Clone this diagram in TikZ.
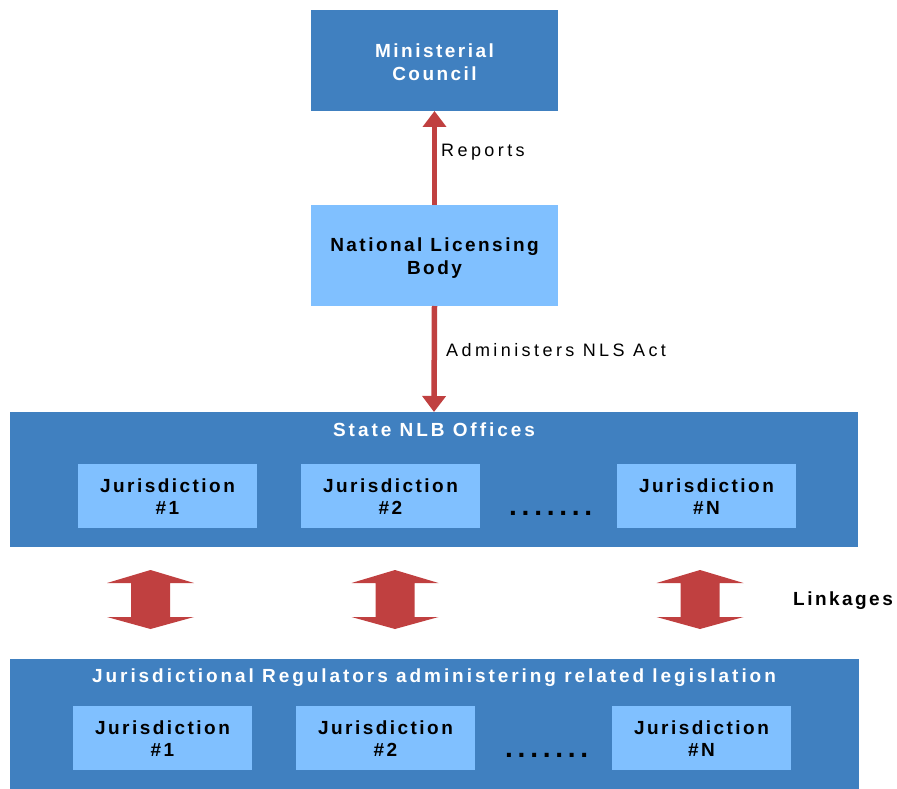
\documentclass[tikz,border=0pt]{standalone}
\usepackage{fontspec}
\setmainfont{Liberation Sans}
\newfontfamily\spc[LetterSpace=13]{Liberation Sans}
\newfontfamily\spct[LetterSpace=15.5]{Liberation Sans}
\newfontfamily\spcr[LetterSpace=19]{Liberation Sans}
\newfontfamily\dotsfont[LetterSpace=17]{Liberation Sans}
\usetikzlibrary{arrows.meta}
\definecolor{darkblue}{HTML}{4080C0}
\definecolor{lightblue}{HTML}{80C0FF}
\definecolor{linkred}{HTML}{C04040}
\begin{document}
\begin{tikzpicture}[x=1pt,y=-1pt,
  box/.style={rectangle, inner sep=0pt, outer sep=0pt},
  darkbox/.style={box, fill=darkblue},
  lightbox/.style={box, fill=lightblue},
  boxtext/.style={inner sep=0pt, align=center, font=\spc\bfseries\fontsize{19}{23}\selectfont},
  jurbox/.style={lightbox, minimum width=179pt, minimum height=64pt},
  jurtext/.style={boxtext, font=\spc\bfseries\fontsize{19}{22}\selectfont},
  conn/.style={draw=linkred, line width=5.5pt},
  lbl/.style={anchor=west, inner sep=0pt, font=\spcr\fontsize{18}{22}\selectfont},
  ttl/.style={inner sep=0pt, text=white, font=\spct\bfseries\fontsize{19}{22}\selectfont},
  dotted text/.style={anchor=base west, inner sep=0pt, font=\dotsfont\bfseries\fontsize{28}{28}\selectfont},
  linkarrow/.style={fill=linkred}
]
\useasboundingbox (0,0) rectangle (897,789);

% top boxes
\node[darkbox, minimum width=247pt, minimum height=101pt] (mc) at (434.5,60.5) {};
\node[boxtext, text=white] (mctext) at ([yshift=-2pt]mc.center) {Ministerial\\Council};
\node[lightbox, minimum width=247pt, minimum height=101pt] (nlb) at (434.5,255.5) {};
\node[boxtext] (nlbtext) at ([yshift=-3pt]nlb.center) {National Licensing\\Body};

% state box
\node[darkbox, minimum width=848pt, minimum height=135pt] (state) at (434,479.5) {};
\node[ttl] (statettl) at (434,430) {State NLB Offices};
\node[jurbox] (sj1) at (167.5,496) {};
\node[jurbox] (sj2) at (390.5,496) {};
\node[jurbox] (sjn) at (706.5,496) {};
\node[jurtext] at ([yshift=-1pt]sj1.center) {Jurisdiction\\\#1};
\node[jurtext] at ([yshift=-1pt]sj2.center) {Jurisdiction\\\#2};
\node[jurtext] at ([yshift=-1pt]sjn.center) {Jurisdiction\\\#N};
\node[dotted text] (sdots) at (509,515) {.......};

% bottom box
\node[darkbox, minimum width=849pt, minimum height=130pt] (reg) at (434.5,724) {};
\node[ttl] (regttl) at (434,678) {Jurisdictional Regulators administering related legislation};
\node[jurbox] (bj1) at (162.5,738) {};
\node[jurbox] (bj2) at (385.5,738) {};
\node[jurbox] (bjn) at (701.5,738) {};
\node[jurtext] at ([yshift=-1pt]bj1.center) {Jurisdiction\\\#1};
\node[jurtext] at ([yshift=-1pt]bj2.center) {Jurisdiction\\\#2};
\node[jurtext] at ([yshift=-1pt]bjn.center) {Jurisdiction\\\#N};
\node[dotted text] (bdots) at (505,757) {.......};

% connectors
\draw[conn, -{Triangle[length=16pt,width=23pt]}] (nlb.north) -- (mc.south);
\node[lbl] (rep) at (441,152) {Reports};
\draw[conn, -{Triangle[length=16pt,width=23pt]}] (nlb.south) -- (state.north);
\node[lbl] (adm) at (446,350) {Administers NLS Act};

% linkage arrows
\foreach \cx/\nm in {150.5/la1, 395/la2, 700/la3}{
  \coordinate (\nm) at (\cx,600);
  \fill[linkarrow] ([yshift=30pt]\nm) -- ([xshift=43.5pt,yshift=17pt]\nm)
    -- ([xshift=19.5pt,yshift=17pt]\nm) -- ([xshift=19.5pt,yshift=-17pt]\nm)
    -- ([xshift=43.5pt,yshift=-17pt]\nm) -- ([yshift=-29pt]\nm)
    -- ([xshift=-43.5pt,yshift=-17pt]\nm) -- ([xshift=-19.5pt,yshift=-17pt]\nm)
    -- ([xshift=-19.5pt,yshift=17pt]\nm) -- ([xshift=-43.5pt,yshift=17pt]\nm) -- cycle;
}
\node[lbl, font=\spc\bfseries\fontsize{19}{22}\selectfont] (link) at (793,601) {Linkages};
\end{tikzpicture}
\end{document}
